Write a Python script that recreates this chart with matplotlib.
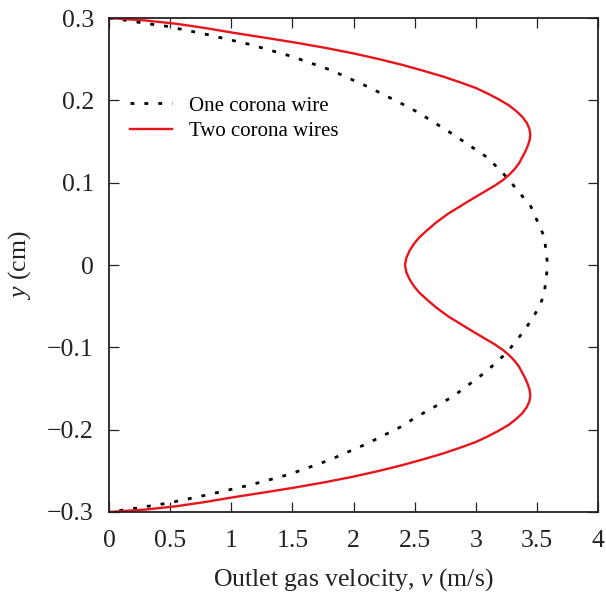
import numpy as np
import matplotlib
matplotlib.use("Agg")
import matplotlib.pyplot as plt

plt.rcParams['font.family'] = ['Liberation Serif', 'DejaVu Serif']
plt.rcParams['mathtext.fontset'] = 'custom'
plt.rcParams['mathtext.it'] = 'Liberation Serif:italic'
plt.rcParams['mathtext.rm'] = 'Liberation Serif'

# one corona wire profile
y_one = [0.300, 0.297, 0.293, 0.290, 0.280, 0.268, 0.254, 0.237, 0.217, 0.197,
         0.186, 0.160, 0.130, 0.107, 0.071, 0.034, 0.000,
         -0.034, -0.051, -0.079, -0.107, -0.130, -0.160, -0.184, -0.197, -0.217,
         -0.237, -0.254, -0.267, -0.279, -0.289, -0.293, -0.297, -0.300]
v_one = [0.00, 0.15, 0.32, 0.47, 0.80, 1.15, 1.48, 1.81, 2.11, 2.38,
         2.52, 2.80, 3.10, 3.25, 3.45, 3.56, 3.587,
         3.56, 3.52, 3.40, 3.25, 3.08, 2.81, 2.52, 2.38, 2.11,
         1.80, 1.48, 1.16, 0.81, 0.49, 0.32, 0.15, 0.00]

# two corona wires profile, upper half (y >= 0)
y_two_up = [0.300, 0.299, 0.297, 0.293, 0.288, 0.282, 0.276, 0.270, 0.264, 0.257,
            0.250, 0.243, 0.236, 0.229, 0.222, 0.215, 0.208, 0.201, 0.194, 0.187,
            0.180, 0.173, 0.166, 0.159, 0.152, 0.145, 0.138, 0.131, 0.124, 0.117,
            0.110, 0.103, 0.096, 0.089, 0.082, 0.073, 0.062, 0.051, 0.042, 0.034,
            0.026, 0.018, 0.009, 0.000]
v_two_up = [0.00, 0.10, 0.30, 0.55, 0.78, 1.02, 1.28, 1.53, 1.76, 2.00,
            2.21, 2.40, 2.57, 2.73, 2.87, 3.00, 3.10, 3.19, 3.27, 3.33,
            3.38, 3.415, 3.437, 3.445, 3.440, 3.425, 3.405, 3.38, 3.355, 3.32,
            3.275, 3.22, 3.15, 3.07, 2.99, 2.89, 2.77, 2.67, 2.60, 2.54,
            2.495, 2.46, 2.432, 2.42]
# lower half, mirror image of the upper one in the picture
y_two_low = [-0.009, -0.018, -0.026, -0.034, -0.042, -0.051, -0.062, -0.073, -0.082, -0.089,
             -0.096, -0.103, -0.110, -0.117, -0.124, -0.131, -0.138, -0.145, -0.152, -0.159,
             -0.166, -0.173, -0.180, -0.187, -0.194, -0.201, -0.208, -0.215, -0.222, -0.229,
             -0.236, -0.243, -0.250, -0.257, -0.264, -0.270, -0.276, -0.282, -0.288, -0.293,
             -0.297, -0.299, -0.300]
v_two_low = [2.432, 2.46, 2.495, 2.54, 2.60, 2.67, 2.77, 2.89, 2.99, 3.07,
             3.15, 3.22, 3.275, 3.32, 3.355, 3.38, 3.405, 3.425, 3.440, 3.445,
             3.437, 3.415, 3.38, 3.33, 3.27, 3.19, 3.10, 3.00, 2.87, 2.73,
             2.57, 2.40, 2.21, 2.00, 1.76, 1.53, 1.28, 1.02, 0.78, 0.55,
             0.30, 0.10, 0.00]

xticks = [0, 0.5, 1, 1.5, 2, 2.5, 3, 3.5, 4]
xticklabels = ['0', '0.5', '1', '1.5', '2', '2.5', '3', '3.5', '4']
yticks = [-0.3, -0.2, -0.1, 0, 0.1, 0.2, 0.3]
yticklabels = ['\u22120.3', '\u22120.2', '\u22120.1', '0', '0.1', '0.2', '0.3']

fig = plt.figure(figsize=(6.06, 5.93), dpi=100)
ax = fig.add_axes([0.180, 0.1366, 0.807, 0.833])

ax.plot(v_one, y_one, color='black', lw=2.0, linestyle=(0, (1.4, 3.6)),
        label='One corona wire')
ax.plot(v_two_up + v_two_low, y_two_up + y_two_low, color='#e8141c', lw=1.7,
        label='Two corona wires')

ax.set_xlim(0, 4)
ax.set_ylim(-0.3, 0.3)
ax.set_xticks(xticks)
ax.set_xticklabels(xticklabels)
ax.set_yticks(yticks)
ax.set_yticklabels(yticklabels)
ax.tick_params(direction='in', length=7, width=0.9, top=True, right=True,
               labelsize=18.5, colors='#222222')
ax.tick_params(axis='x', pad=13)
ax.tick_params(axis='y', pad=11)
for s in ax.spines.values():
    s.set_linewidth(1.3)
    s.set_color('#222222')

ax.set_xlabel('Outlet gas velocity, $v$ (m/s)', fontsize=18.5, labelpad=10,
              color='#222222')
ax.set_ylabel('$y$ (cm)', fontsize=18.5, labelpad=10, color='#222222')

ax.legend(loc='upper left', bbox_to_anchor=(0.005, 0.88), frameon=False,
          fontsize=15, handlelength=2.0, handletextpad=0.8, labelspacing=0.3)

fig.savefig('out.png', dpi=100)
